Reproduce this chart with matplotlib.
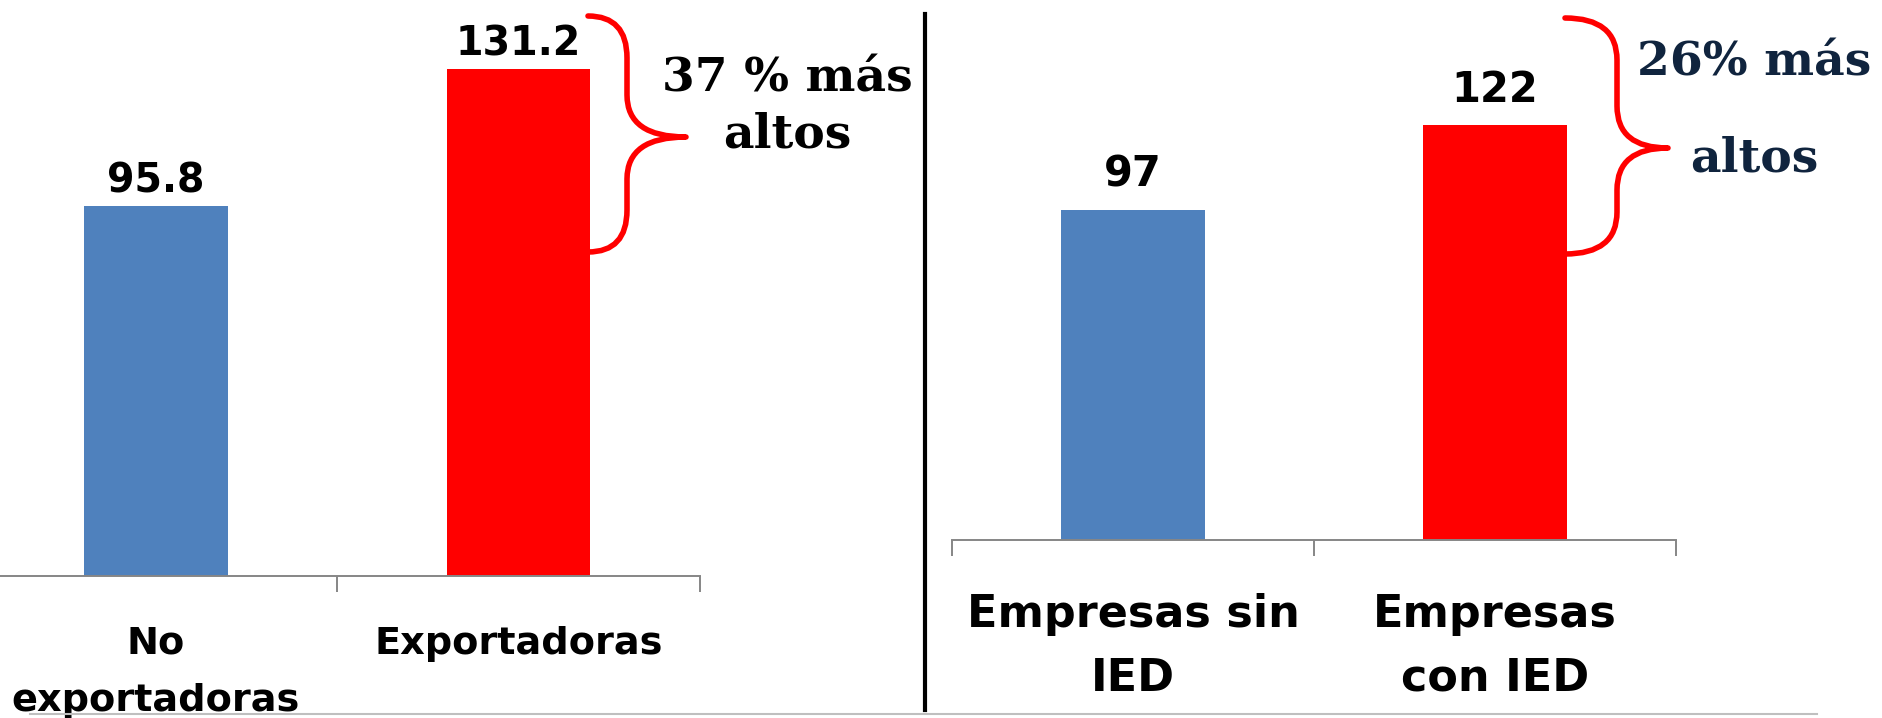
import numpy as np
import matplotlib
matplotlib.use("Agg")
import matplotlib.pyplot as plt
from matplotlib.path import Path
from matplotlib.patches import PathPatch

plt.rcParams['font.family'] = ['DejaVu Sans']

# data
export_labels = ['No\nexportadoras', 'Exportadoras']
export_values = [95.8, 131.2]
export_value_text = ['95.8', '131.2']

ied_labels = ['Empresas sin\nIED', 'Empresas\ncon IED']
ied_values = [97, 122]
ied_value_text = ['97', '122']

note_left = ['37 % más', 'altos']
note_right = ['26% más', 'altos']

BLUE = '#4F81BD'
RED = '#FF0000'
AXIS_GREY = '#868686'
NAVY = '#10243E'
bar_colors = [BLUE, RED]

W, H = 1882, 718
fig = plt.figure(figsize=(W / 100, H / 100), dpi=100)


def px_box(x0, x1, y_base):
    # pixel extents (y from top) -> figure fraction rect
    return [x0 / W, (H - y_base) / H, (x1 - x0) / W, y_base / H]


def bar_panel(ax, labels, values, texts, xlim, ytop, width,
              lab_size, num_size, num_pad, lab_pad, lsp):
    x = np.arange(len(values))
    ax.bar(x, values, width=width, color=bar_colors, zorder=2)
    for xi, v, t in zip(x, values, texts):
        ax.annotate(t, (xi, v), xytext=(0, num_pad), textcoords='offset points',
                    ha='center', va='baseline', fontsize=num_size, fontweight='bold')
    ax.set_xticks(x)
    ax.set_xticklabels(labels, fontsize=lab_size, fontweight='bold', linespacing=lsp)
    ax.tick_params(axis='x', which='major', length=0, pad=lab_pad)
    ax.set_xticks(np.arange(len(values) + 1) - 0.5, minor=True)
    ax.tick_params(axis='x', which='minor', length=11.5, width=1.4,
                   color=AXIS_GREY, direction='out')
    ax.set_yticks([])
    ax.set_xlim(*xlim)
    ax.set_ylim(0, ytop)
    for s in ['left', 'right', 'top']:
        ax.spines[s].set_visible(False)
    ax.spines['bottom'].set_color(AXIS_GREY)
    ax.spines['bottom'].set_linewidth(1.4)
    ax.patch.set_alpha(0)


ax1 = fig.add_axes(px_box(0, 700, 576))
bar_panel(ax1, export_labels, export_values, export_value_text,
          (-0.43, 1.5), 149.2, 0.396, 27.5, 28.5, 10, 36, 1.75)

ax2 = fig.add_axes(px_box(952, 1676, 540))
bar_panel(ax2, ied_labels, ied_values, ied_value_text,
          (-0.5, 1.5), 158.8, 0.40, 32, 30, 17, 38, 1.62)

# overlay in pixel coordinates for braces, notes and separators
ov = fig.add_axes([0, 0, 1, 1])
ov.set_xlim(0, W)
ov.set_ylim(H, 0)
ov.axis('off')
ov.patch.set_alpha(0)


def brace(ax, x0, xs, xt, y0, ym, y1, r=42):
    verts = [(x0, y0), (xs, y0), (xs, y0 + r),
             (xs, ym - r), (xs, ym), (xt, ym),
             (xs, ym), (xs, ym + r),
             (xs, y1 - r), (xs, y1), (x0, y1)]
    codes = [Path.MOVETO, Path.CURVE3, Path.CURVE3,
             Path.LINETO, Path.CURVE3, Path.CURVE3,
             Path.CURVE3, Path.CURVE3,
             Path.LINETO, Path.CURVE3, Path.CURVE3]
    ax.add_patch(PathPatch(Path(verts, codes), fill=False, edgecolor=RED,
                           lw=4, capstyle='round', joinstyle='round'))


brace(ov, 588, 627, 686, 16, 137, 252)
brace(ov, 1565, 1617, 1668, 18, 148, 254)

serif = dict(family='DejaVu Serif', fontweight='bold', fontsize=34,
             ha='center', va='baseline')
ov.text(787, 92, note_left[0], color='black', **serif)
ov.text(787, 147, note_left[1], color='black', **serif)
ov.text(1754, 75, note_right[0], color=NAVY, **serif)
ov.text(1754, 172, note_right[1], color=NAVY, **serif)

ov.plot([925, 925], [14, 710], color='black', lw=3)
ov.plot([30, 1817], [714, 714], color='#BFBFBF', lw=1.5)

fig.savefig('out.png', dpi=100)
